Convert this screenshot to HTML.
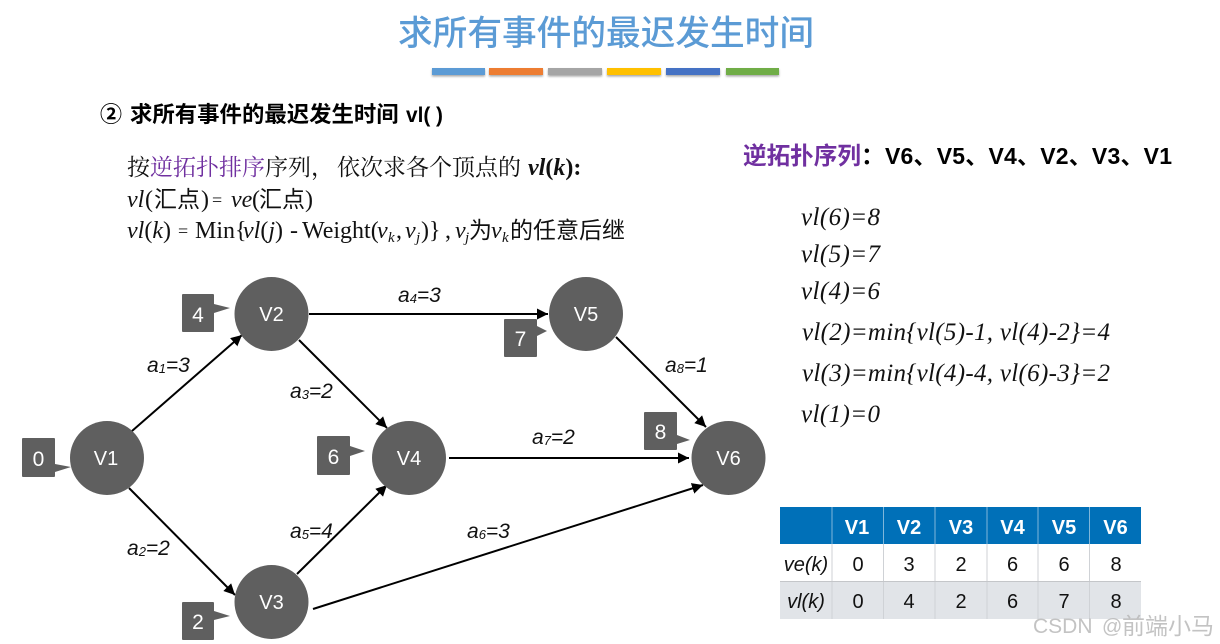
<!DOCTYPE html>
<html lang="zh">
<head>
<meta charset="utf-8">
<title>求所有事件的最迟发生时间</title>
<style>
html,body{margin:0;padding:0;background:#fff;width:1220px;height:644px;overflow:hidden}
svg{display:block}
text{white-space:pre}
.sans{font-family:"Liberation Sans","Noto Sans CJK SC",sans-serif}
.serif{font-family:"Liberation Serif","Noto Serif CJK SC",serif;font-size:23px;fill:#111}
.lat{font-family:"Liberation Serif",serif;font-size:24px;fill:#111}
.eq{font-family:"Liberation Serif",serif;font-size:18px;fill:#111}
.it{font-style:italic}
.hei{font-family:"Noto Sans CJK SC",sans-serif;font-size:23px;fill:#111}
.sub{font-family:"Liberation Serif",serif;font-size:15px;font-style:italic;fill:#111}
.node{font-family:"Liberation Sans",sans-serif;font-size:20px;fill:#fff;text-anchor:middle}
.tag{font-family:"Liberation Sans",sans-serif;font-size:21px;fill:#fff;text-anchor:middle}
.lab{font-family:"Liberation Sans",sans-serif;font-size:21px;font-style:italic;fill:#111}
.lab tspan{font-size:13px}
.vl{font-family:"Liberation Serif",serif;font-size:25px;font-style:italic;fill:#111}
.th{font-family:"Liberation Sans",sans-serif;font-size:20px;font-weight:bold;fill:#fff;text-anchor:middle}
.td{font-family:"Liberation Sans",sans-serif;font-size:20px;fill:#111;text-anchor:middle}
.ln{stroke:#000;stroke-width:2;fill:none;marker-end:url(#ah)}
.g{fill:#5f5f5f}
</style>
</head>
<body>
<svg width="1220" height="644" viewBox="0 0 1220 644" xmlns="http://www.w3.org/2000/svg">
<defs>
<marker id="ah" markerUnits="userSpaceOnUse" markerWidth="12" markerHeight="12" refX="11" refY="5.5" orient="auto">
<path d="M0,0L11,5.5L0,11z" fill="#000"/>
</marker>
<filter id="sh" x="-10%" y="-50%" width="120%" height="220%">
<feDropShadow dx="0" dy="1.5" stdDeviation="1" flood-color="#000" flood-opacity=".35"/>
</filter>
</defs>

<text x="398" y="45" font-size="34.7" fill="#5B9BD5" font-weight="500" font-family="'Noto Sans CJK SC',sans-serif" textLength="416" lengthAdjust="spacingAndGlyphs">求所有事件的最迟发生时间</text>

<g filter="url(#sh)">
<rect x="432" y="68" width="53" height="7" fill="#5B9BD5"/>
<rect x="489" y="68" width="54" height="7" fill="#ED7D31"/>
<rect x="548" y="68" width="54" height="7" fill="#A5A5A5"/>
<rect x="607" y="68" width="54" height="7" fill="#FFC000"/>
<rect x="666" y="68" width="54" height="7" fill="#4472C4"/>
<rect x="726" y="68" width="53" height="7" fill="#70AD47"/>
</g>

<text x="100" y="122" class="sans" font-size="22" font-weight="bold" fill="#000">②</text>
<text x="130" y="122" class="sans" font-size="22.400" font-weight="bold" fill="#000">求所有事件的最迟发生时间</text>
<text x="406" y="122" class="sans" font-size="20.800" font-weight="bold" fill="#000">vl( )</text>

<text x="127" y="175" class="serif">按<tspan fill="#7030A0">逆拓扑排序</tspan>序列，</text>
<text x="337" y="175" class="serif">依次求各个顶点的</text>
<text x="528" y="175" class="lat" font-weight="bold"><tspan class="it">vl</tspan>(<tspan class="it">k</tspan>):</text>

<text x="127" y="207" class="lat it">vl</text>
<text x="145" y="207" class="lat">(</text>
<text x="154" y="207" class="hei">汇点</text>
<text x="201" y="207" class="lat">)</text>
<text x="212" y="206" class="eq">=</text>
<text x="231" y="207" class="lat it">ve</text>
<text x="252" y="207" class="lat">(</text>
<text x="259" y="207" class="hei">汇点</text>
<text x="305" y="207" class="lat">)</text>

<text x="127" y="238" class="lat"><tspan class="it">vl</tspan>(<tspan class="it">k</tspan>)</text>
<text x="178" y="237" class="eq">=</text>
<text x="195" y="238" class="lat">Min{</text>
<text x="243" y="238" class="lat"><tspan class="it">vl</tspan>(<tspan class="it">j</tspan>)</text>
<text x="290" y="238" class="lat">-</text>
<text x="302" y="238" class="lat">Weight(</text>
<text x="377" y="238" class="lat it">v</text>
<text x="388" y="242" class="sub">k</text>
<text x="396" y="238" class="lat">,</text>
<text x="405" y="238" class="lat it">v</text>
<text x="416" y="242" class="sub">j</text>
<text x="421" y="238" class="lat">)}</text>
<text x="445" y="238" class="lat">,</text>
<text x="455" y="238" class="lat it">v</text>
<text x="465" y="242" class="sub">j</text>
<text x="469" y="238" class="hei">为</text>
<text x="491" y="238" class="lat it">v</text>
<text x="502" y="242" class="sub">k</text>
<text x="510" y="238" class="hei">的任意后继</text>

<text x="743" y="164" class="sans" font-size="23.6" font-weight="bold" fill="#7030A0">逆拓扑序列<tspan fill="#000">：</tspan></text>
<text x="885" y="164" class="sans" font-size="23" font-weight="bold" fill="#000" textLength="287">V6、V5、V4、V2、V3、V1</text>

<text x="801" y="225" class="vl" textLength="79">vl(6)=8</text>
<text x="801" y="262" class="vl" textLength="79">vl(5)=7</text>
<text x="801" y="299" class="vl" textLength="79">vl(4)=6</text>
<text x="802" y="340" class="vl" textLength="308">vl(2)=min{vl(5)-1, vl(4)-2}=4</text>
<text x="802" y="381" class="vl" textLength="308">vl(3)=min{vl(4)-4, vl(6)-3}=2</text>
<text x="801" y="422" class="vl" textLength="79">vl(1)=0</text>

<path class="ln" d="M132,431L242,335"/>
<path class="ln" d="M129,488L235,595"/>
<path class="ln" d="M299,340L387,428"/>
<path class="ln" d="M297,574L387,485"/>
<path class="ln" d="M313,609L703,485"/>
<path class="ln" d="M309,314L548,314"/>
<path class="ln" d="M449,458L689,458"/>
<path class="ln" d="M616,337L706,427"/>

<circle class="g" cx="107" cy="458" r="37"/>
<circle class="g" cx="271.500" cy="314" r="37"/>
<circle class="g" cx="271.500" cy="602" r="37"/>
<circle class="g" cx="409" cy="458" r="37"/>
<circle class="g" cx="586" cy="314" r="37"/>
<circle class="g" cx="728.500" cy="458" r="37"/>
<text class="node" x="106" y="465">V1</text>
<text class="node" x="271.500" y="321">V2</text>
<text class="node" x="271.500" y="609">V3</text>
<text class="node" x="409" y="465">V4</text>
<text class="node" x="586" y="321">V5</text>
<text class="node" x="728.500" y="465">V6</text>

<path class="g" d="M23,438H54a1,1 0 0 1 1,1V464L71,467L55,472V476a1,1 0 0 1 -1,1H23a1,1 0 0 1 -1,-1V439a1,1 0 0 1 1,-1z"/>
<path class="g" d="M183,294H213a1,1 0 0 1 1,1V304L230,308L214,313V331a1,1 0 0 1 -1,1H183a1,1 0 0 1 -1,-1V295a1,1 0 0 1 1,-1z"/>
<path class="g" d="M183,602H213a1,1 0 0 1 1,1V611L230,616L214,620V639a1,1 0 0 1 -1,1H183a1,1 0 0 1 -1,-1V603a1,1 0 0 1 1,-1z"/>
<path class="g" d="M318,436H349a1,1 0 0 1 1,1V446L365,451L350,456V474a1,1 0 0 1 -1,1H318a1,1 0 0 1 -1,-1V437a1,1 0 0 1 1,-1z"/>
<path class="g" d="M505,319H536a1,1 0 0 1 1,1V326L547,331L537,336V356a1,1 0 0 1 -1,1H505a1,1 0 0 1 -1,-1V320a1,1 0 0 1 1,-1z"/>
<path class="g" d="M645,412H676a1,1 0 0 1 1,1V435L690,440L677,444V449a1,1 0 0 1 -1,1H645a1,1 0 0 1 -1,-1V413a1,1 0 0 1 1,-1z"/>
<text class="tag" x="38.500" y="466">0</text>
<text class="tag" x="198" y="322">4</text>
<text class="tag" x="198" y="629">2</text>
<text class="tag" x="333.500" y="464">6</text>
<text class="tag" x="520.500" y="346">7</text>
<text class="tag" x="660.500" y="439">8</text>

<text class="lab" x="147" y="372">a<tspan dy="1">1</tspan><tspan dy="-1" style="font-size:21px">=3</tspan></text>
<text class="lab" x="127" y="555">a<tspan dy="1">2</tspan><tspan dy="-1" style="font-size:21px">=2</tspan></text>
<text class="lab" x="290" y="398">a<tspan dy="1">3</tspan><tspan dy="-1" style="font-size:21px">=2</tspan></text>
<text class="lab" x="398" y="302">a<tspan dy="1">4</tspan><tspan dy="-1" style="font-size:21px">=3</tspan></text>
<text class="lab" x="290" y="538">a<tspan dy="1">5</tspan><tspan dy="-1" style="font-size:21px">=4</tspan></text>
<text class="lab" x="467" y="538">a<tspan dy="1">6</tspan><tspan dy="-1" style="font-size:21px">=3</tspan></text>
<text class="lab" x="532" y="444">a<tspan dy="1">7</tspan><tspan dy="-1" style="font-size:21px">=2</tspan></text>
<text class="lab" x="665" y="372">a<tspan dy="1">8</tspan><tspan dy="-1" style="font-size:21px">=1</tspan></text>

<rect x="780" y="507" width="361" height="37" fill="#0070B8"/>
<rect x="780" y="581" width="361" height="38" fill="#E1E4E8"/>
<g stroke="#cfd2d6" stroke-width="1">
<path d="M832,544V619M883.500,544V619M935,544V619M987,544V619M1038,544V619M1089.500,544V619"/>
<path d="M780,581.500H1141" stroke="#c4c6c9"/>
</g>
<g stroke="#7fb6da" stroke-width="1">
<path d="M832,507V544M883.500,507V544M935,507V544M987,544V507M1038,507V544M1089.500,507V544"/>
</g>
<text class="th" x="857" y="534">V1</text>
<text class="th" x="909" y="534">V2</text>
<text class="th" x="961" y="534">V3</text>
<text class="th" x="1012.500" y="534">V4</text>
<text class="th" x="1064" y="534">V5</text>
<text class="th" x="1115.500" y="534">V6</text>
<text class="td" x="806" y="571" font-style="italic">ve(k)</text>
<text class="td" x="806" y="608" font-style="italic">vl(k)</text>
<text class="td" x="858" y="571">0</text>
<text class="td" x="909" y="571">3</text>
<text class="td" x="961" y="571">2</text>
<text class="td" x="1012.500" y="571">6</text>
<text class="td" x="1064" y="571">6</text>
<text class="td" x="1116" y="571">8</text>
<text class="td" x="858" y="608">0</text>
<text class="td" x="909" y="608">4</text>
<text class="td" x="961" y="608">2</text>
<text class="td" x="1012.500" y="608">6</text>
<text class="td" x="1064" y="608">7</text>
<text class="td" x="1116" y="608">8</text>

<text x="1033" y="633" class="sans" font-size="21" fill="#b9b9b9" fill-opacity=".85">CSDN</text>
<text x="1102" y="633" class="sans" font-size="20" fill="#b9b9b9" fill-opacity=".85">@</text>
<text x="1122" y="634" class="sans" font-size="23" fill="#b9b9b9" fill-opacity=".85">前端小马</text>
</svg>
</body>
</html>
